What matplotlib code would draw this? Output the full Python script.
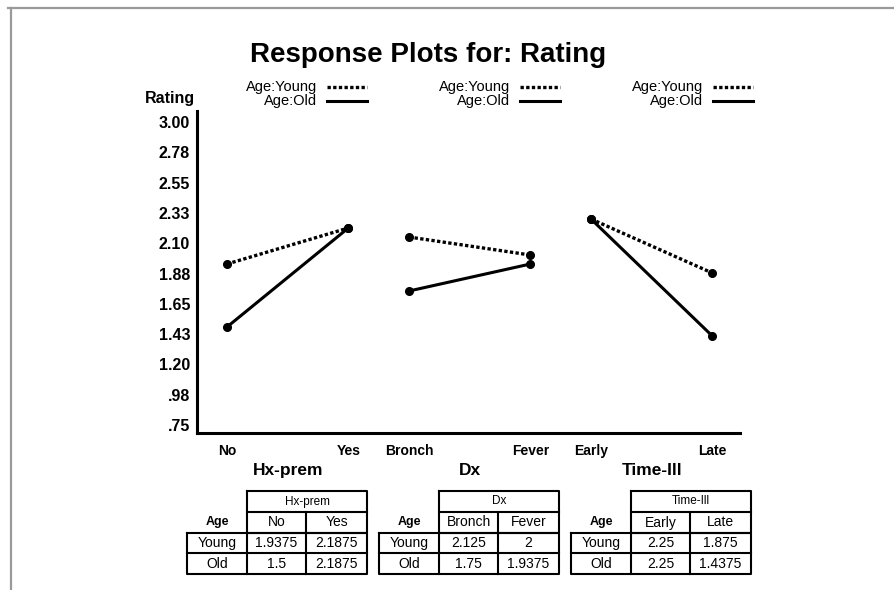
"""Response plots for Rating: Age interaction with Hx-prem, Dx and Time-Ill,
with the cell-mean tables underneath. Writes out.png."""
import matplotlib
matplotlib.use("Agg")
import matplotlib.pyplot as plt
import numpy as np

plt.rcParams["font.family"] = ["Liberation Sans", "DejaVu Sans"]

# data: cell means of Rating by Age x factor
factors = ["Hx-prem", "Dx", "Time-Ill"]
levels = [["No", "Yes"], ["Bronch", "Fever"], ["Early", "Late"]]
young = [[1.9375, 2.1875], [2.125, 2.0], [2.25, 1.875]]
old = [[1.5, 2.1875], [1.75, 1.9375], [2.25, 1.4375]]
ytick_labels = ["3.00", "2.78", "2.55", "2.33", "2.10", "1.88", "1.65",
                "1.43", "1.20", ".98", ".75"]


def fmt(v):
    return f"{v:g}"


fig = plt.figure(figsize=(8.94, 5.90), dpi=100)
ax = fig.add_axes([197 / 894, 1 - 433 / 590, (740 - 197) / 894, (433 - 111) / 590])

xs_all, xt_labels = [], []
for i in range(3):
    xs = [3 * i, 3 * i + 2]
    ax.plot(xs, young[i], color="black", lw=2.4, ls=(0, (1, 0.7)),
            marker="o", ms=5.5, zorder=3)
    ax.plot(xs, old[i], color="black", lw=2.2, ls="-",
            marker="o", ms=5.5, zorder=3)
    xs_all += xs
    xt_labels += levels[i]

ax.set_xlim(-0.494, 8.456)
ax.set_ylim(0.764, 3.0)
ax.set_xticks(xs_all)
ax.set_xticklabels(xt_labels, fontsize=10, fontweight="bold")
for lab in ax.get_xticklabels():
    lab.set_verticalalignment("baseline")
# labels in the original sit slightly inside the axis ends
ax.set_yticks(np.linspace(2.924, 0.819, len(ytick_labels)))
ax.set_yticklabels(ytick_labels, fontsize=11.5, fontweight="bold")
ax.tick_params(axis="both", length=0)
ax.tick_params(axis="y", pad=5)
ax.tick_params(axis="x", pad=15.5)
for s in ["top", "right"]:
    ax.spines[s].set_visible(False)
for s in ["left", "bottom"]:
    ax.spines[s].set_linewidth(2.2)

# overlay in pixel coordinates for title, legends, tables and frame
ov = fig.add_axes([0, 0, 1, 1])
ov.set_xlim(0, 894)
ov.set_ylim(590, 0)
ov.axis("off")
ov.patch.set_visible(False)

ov.plot([8, 894], [8, 8], color="#9a9a9a", lw=1.6, clip_on=False)
ov.plot([11, 11], [8, 590], color="#9a9a9a", lw=1.6, clip_on=False)

ov.text(428, 55, "Response Plots for: Rating", ha="center", va="center",
        fontsize=20, fontweight="bold")
ov.text(195, 99, "Rating", ha="right", va="center", fontsize=11.5, fontweight="bold")

CB = "center_baseline"
for i in range(3):
    tx = 317 + 193 * i
    ov.text(tx, 86, "Age:Young", ha="right", va=CB, fontsize=10.5)
    ov.text(tx, 100, "Age:Old", ha="right", va=CB, fontsize=10.5)
    ov.plot([tx + 10, tx + 50], [87, 87], color="black", lw=2.4, ls=(0, (1, 0.7)))
    ov.plot([tx + 10, tx + 50], [101, 101], color="black", lw=2.2)

    # panel title under the axis
    ov.text(288 + 182 * i, 469, factors[i], ha="center", va=CB,
            fontsize=12.5, fontweight="bold")

    # table
    x0 = 187 + 192 * i
    c1, c2, c3 = x0 + 60, x0 + 119, x0 + 180
    y0, y1, y2, y3, y4 = 491, 512, 533, 553, 574
    lw = 1.5
    ov.plot([c1, c3, c3, c1, c1], [y0, y0, y2, y2, y0], color="black", lw=lw)
    ov.plot([c1, c3], [y1, y1], color="black", lw=lw)
    ov.plot([c2, c2], [y1, y4], color="black", lw=lw)
    ov.plot([x0, c3, c3, x0, x0], [y2, y2, y4, y4, y2], color="black", lw=lw)
    ov.plot([x0, c3], [y3, y3], color="black", lw=lw)
    ov.plot([c1, c1], [y2, y4], color="black", lw=lw)

    up = 1.5
    ov.text((x0 + c1) / 2, 521, "Age", ha="center", va=CB,
            fontsize=9, fontweight="bold")
    ov.text((c1 + c3) / 2, (y0 + y1) / 2 - up, factors[i], ha="center", va=CB,
            fontsize=8.5)
    ov.text((c1 + c2) / 2, (y1 + y2) / 2 - up, levels[i][0], ha="center", va=CB, fontsize=10)
    ov.text((c2 + c3) / 2, (y1 + y2) / 2 - up, levels[i][1], ha="center", va=CB, fontsize=10)
    for row, (name, vals) in enumerate([("Young", young[i]), ("Old", old[i])]):
        yc = ((y2 + y3) / 2 if row == 0 else (y3 + y4) / 2) - up
        ov.text((x0 + c1) / 2, yc, name, ha="center", va=CB, fontsize=10)
        ov.text((c1 + c2) / 2, yc, fmt(vals[0]), ha="center", va=CB, fontsize=10)
        ov.text((c2 + c3) / 2, yc, fmt(vals[1]), ha="center", va=CB, fontsize=10)

fig.savefig("out.png", dpi=100)
